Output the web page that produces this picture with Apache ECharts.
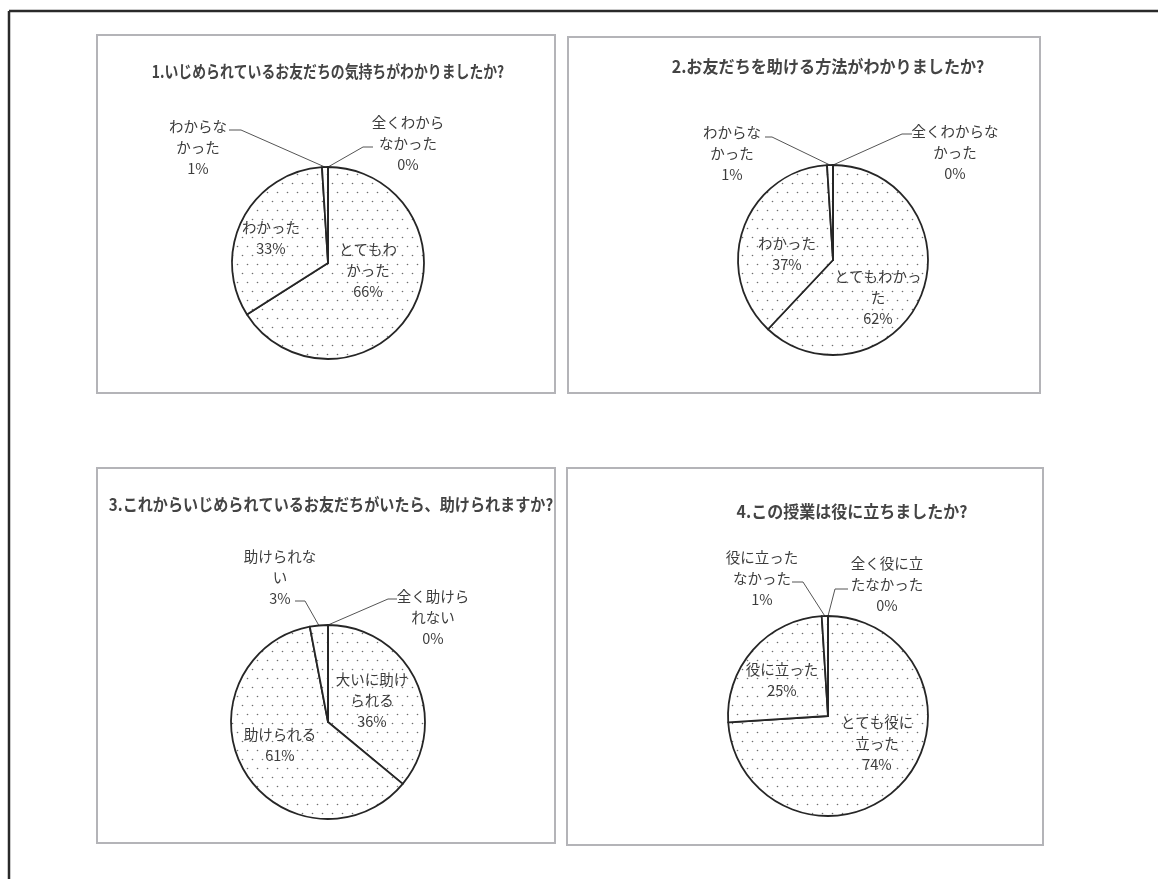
<!DOCTYPE html>
<html><head><meta charset="utf-8">
<script src="https://cdn.jsdelivr.net/npm/echarts@6.0.0/dist/echarts.min.js"></script>
<style>html,body{margin:0;padding:0;background:#fff}#c{width:1158px;height:879px}</style>
</head><body><div id="c"></div>
<script>
// ---- data ----
const titles = [
  '1.いじめられているお友だちの気持ちがわかりましたか?',
  '2.お友だちを助ける方法がわかりましたか?',
  '3.これからいじめられているお友だちがいたら、助けられますか?',
  '4.この授業は役に立ちましたか?'
];
const cats1 = ['とてもわかった', 'わかった', 'わからなかった', '全くわからなかった'];
const vals1 = [66, 33, 1, 0];
const cats2 = ['とてもわかった', 'わかった', 'わからなかった', '全くわからなかった'];
const vals2 = [62, 37, 1, 0];
const cats3 = ['大いに助けられる', '助けられる', '助けられない', '全く助けられない'];
const vals3 = [36, 61, 3, 0];
const cats4 = ['とても役に立った', '役に立った', '役に立ったなかった', '全く役に立たなかった'];
const vals4 = [74, 25, 1, 0];
// wrapped label text as shown in the picture
const wrap1 = ['とてもわ\nかった', 'わかった', 'わからな\nかった', '全くわから\nなかった'];
const wrap2 = ['とてもわかっ\nた', 'わかった', 'わからな\nかった', '全くわからな\nかった'];
const wrap3 = ['大いに助け\nられる', '助けられる', '助けられな\nい', '全く助けら\nれない'];
const wrap4 = ['とても役に\n立った', '役に立った', '役に立った\nなかった', '全く役に立\nたなかった'];

// ---- layout (styles/positions) ----
// title: [centerX, centerY, fontSize, scaleX]
const layouts = [
  { c: [328, 263], r: 96, title: [328, 72, 16.5, 0.84],
    lab: [[40, 7], [-57, -25], [-130, -116], [80, -120]],
    lines: { 2: [[-87, -133], [-99, -133]], 3: [[35, -116], [45, -116]] } },
  { c: [833, 260], r: 95, title: [828, 67, 16.6, 0.97],
    lab: [[45, 37], [-46, -6], [-101, -107], [122, -108]],
    lines: { 2: [[-61, -123], [-68, -123]], 3: [[69, -126], [79, -126]] } },
  { c: [328, 722], r: 97, title: [331, 505, 16.5, 0.915],
    lab: [[44, -22], [-48, 23], [-48, -145], [105, -105]],
    lines: { 2: [[-23, -121], [-33, -121]], 3: [[60, -123], [69, -123]] } },
  { c: [828, 716], r: 100, title: [852, 512, 16.5, 0.97],
    lab: [[49, 27], [-46, -36], [-66, -138], [59, -132]],
    lines: { 2: [[-25, -134], [-36, -134]], 3: [[7, -127], [20, -127]] } }
];
const boxes = [[97, 35, 555, 393], [568, 37, 1040, 393], [97, 468, 555, 843], [567, 468, 1043, 845]];

// dotted fill pattern
const tile = document.createElement('canvas');
tile.width = 10; tile.height = 18;
const tc = tile.getContext('2d');
tc.fillStyle = '#fff'; tc.fillRect(0, 0, 10, 18);
tc.fillStyle = '#6e6e6e';
tc.beginPath(); tc.arc(2.5, 3.5, 0.8, 0, Math.PI * 2); tc.fill();
tc.beginPath(); tc.arc(7.5, 12.5, 0.8, 0, Math.PI * 2); tc.fill();
const dotFill = { image: tile, repeat: 'repeat' };

const allCats = [cats1, cats2, cats3, cats4];
const allVals = [vals1, vals2, vals3, vals4];
const allWrap = [wrap1, wrap2, wrap3, wrap4];

const series = allVals.map((vals, si) => {
  const L = layouts[si];
  const total = vals.reduce((a, b) => a + b, 0);
  const cum = [];
  let acc = 0;
  vals.forEach(v => { cum.push(acc + v / 2); acc += v; });
  return {
    type: 'pie',
    center: L.c,
    radius: L.r,
    startAngle: 90,
    clockwise: true,
    avoidLabelOverlap: false,
    silent: true,
    animation: false,
    itemStyle: { color: dotFill, borderColor: '#262626', borderWidth: 1.8 },
    label: {
      color: '#3c3c3c', fontSize: 14.5, lineHeight: 21,
      fontFamily: '"Noto Sans CJK JP", sans-serif', align: 'center'
    },
    labelLine: { lineStyle: { color: '#555', width: 1 } },
    data: vals.map((v, i) => ({
      name: allCats[si][i],
      value: v,
      label: {
        position: L.lines[i] ? 'outside' : 'inside',
        formatter: allWrap[si][i] + '\n' + v + '%'
      },
      labelLine: { show: !!L.lines[i], length: 10, length2: 10 }
    })),
    labelLayout: function (p) {
      const i = p.dataIndex;
      const o = L.lab[i];
      const res = { x: L.c[0] + o[0], y: L.c[1] + o[1], align: 'center', verticalAlign: 'middle' };
      if (L.lines[i]) {
        const ang = (cum[i] / total) * Math.PI * 2; // clockwise from top
        const start = [L.c[0] + L.r * Math.sin(ang), L.c[1] - L.r * Math.cos(ang)];
        res.labelLinePoints = [start,
          [L.c[0] + L.lines[i][0][0], L.c[1] + L.lines[i][0][1]],
          [L.c[0] + L.lines[i][1][0], L.c[1] + L.lines[i][1][1]]];
      }
      return res;
    }
  };
});

const graphics = [];
// outer frame (left & top)
graphics.push({ type: 'line', shape: { x1: 9, y1: 11, x2: 1158, y2: 11 }, style: { stroke: '#2a2a2a', lineWidth: 2.5 } });
graphics.push({ type: 'line', shape: { x1: 9, y1: 11, x2: 9, y2: 879 }, style: { stroke: '#2a2a2a', lineWidth: 2.5 } });
boxes.forEach(b => {
  graphics.push({ type: 'rect', shape: { x: b[0], y: b[1], width: b[2] - b[0], height: b[3] - b[1] },
    style: { fill: 'none', stroke: '#b4b4b8', lineWidth: 2 } });
});
titles.forEach((t, i) => {
  const T = layouts[i].title;
  graphics.push({ type: 'text', x: T[0], y: T[1], scaleX: T[3],
    style: { text: t, fill: '#444', font: 'bold ' + T[2] + 'px "Noto Sans CJK JP", sans-serif',
      textAlign: 'center', textVerticalAlign: 'middle' } });
});

const chart = echarts.init(document.getElementById('c'), null, { renderer: 'canvas' });
chart.setOption({
  animation: false,
  backgroundColor: '#fff',
  graphic: graphics,
  series: series
});
</script>
</body></html>
